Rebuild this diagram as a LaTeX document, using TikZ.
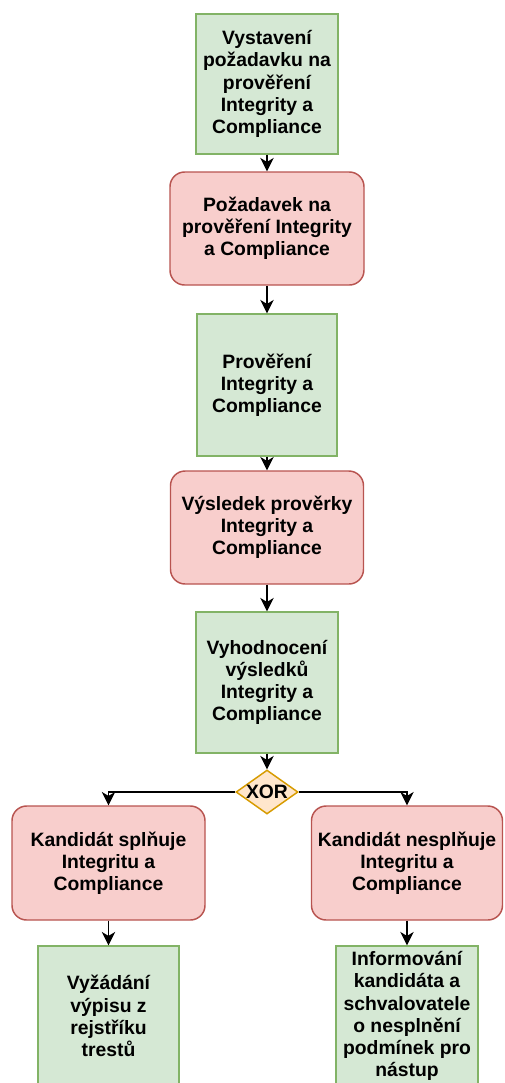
\documentclass[tikz,border=0pt]{standalone}
\usepackage{fontspec}
\setmainfont{Liberation Sans}
\usetikzlibrary{arrows.meta,shapes.geometric}
\definecolor{gfill}{HTML}{D5E8D4}
\definecolor{gline}{HTML}{82B366}
\definecolor{rfill}{HTML}{F8CECC}
\definecolor{rline}{HTML}{B85450}
\definecolor{ofill}{HTML}{FFE6CC}
\definecolor{oline}{HTML}{D79B00}
\begin{document}
\begin{tikzpicture}[x=0.75pt,y=-0.75pt,
  base/.style={align=center,inner sep=0pt,line width=1.1pt,
    font=\fontsize{14.5}{16.6}\selectfont\bfseries},
  task/.style={base,rectangle,draw=gline,fill=gfill},
  event/.style={base,rectangle,rounded corners=11pt,draw=rline,fill=rfill},
  xorst/.style={base,diamond,shape aspect=1.41,draw=oline,fill=ofill,
    minimum width=62*0.75pt,minimum height=44*0.75pt},
  arr/.style={line width=1.1pt,-{Stealth[length=10pt,width=10pt,inset=3pt]}}]
\useasboundingbox (0,0) rectangle (504,1083);
\clip (0,0) rectangle (504,1083);

\node[task,minimum width=142*0.75pt,minimum height=140*0.75pt] (b1) at (267,84)
  {Vystavení\\požadavku na\\prověření\\Integrity a\\Compliance};
\node[event,minimum width=194*0.75pt,minimum height=113*0.75pt] (b2) at (267,228.5)
  {Požadavek na\\prověření Integrity\\a Compliance};
\node[task,minimum width=140*0.75pt,minimum height=142*0.75pt] (b3) at (267,385)
  {Prověření\\Integrity a\\Compliance};
\node[event,minimum width=193*0.75pt,minimum height=113*0.75pt] (b4) at (267,527.5)
  {Výsledek prověrky\\Integrity a\\Compliance};
\node[task,minimum width=142*0.75pt,minimum height=141*0.75pt] (b5) at (267,682.5)
  {Vyhodnocení\\výsledků\\Integrity a\\Compliance};
\node[xorst] (xor) at (267,792) {XOR};
\node[event,minimum width=193*0.75pt,minimum height=114*0.75pt] (L) at (108.5,863)
  {Kandidát splňuje\\Integritu a\\Compliance};
\node[event,minimum width=191*0.75pt,minimum height=114*0.75pt] (R) at (407,863)
  {Kandidát nesplňuje\\Integritu a\\Compliance};
\node[task,minimum width=141*0.75pt,minimum height=140*0.75pt] (LG) at (108.5,1016)
  {Vyžádání\\výpisu z\\rejstříku\\trestů};
\node[task,minimum width=142*0.75pt,minimum height=140*0.75pt] (RG) at (407,1016)
  {Informování\\kandidáta a\\schvalovatele\\o nesplnění\\podmínek pro\\nástup};

\draw[arr] (b1.south) -- (b2.north);
\draw[arr] (b2.south) -- (b3.north);
\draw[arr] (b3.south) -- (b4.north);
\draw[arr] (b4.south) -- (b5.north);
\draw[arr] (b5.south) -- (xor.north);
\draw[arr] (xor.west) -| (L.north);
\draw[arr] (xor.east) -| (R.north);
\draw[arr] (L.south) -- (LG.north);
\draw[arr] (R.south) -- (RG.north);
\end{tikzpicture}
\end{document}
